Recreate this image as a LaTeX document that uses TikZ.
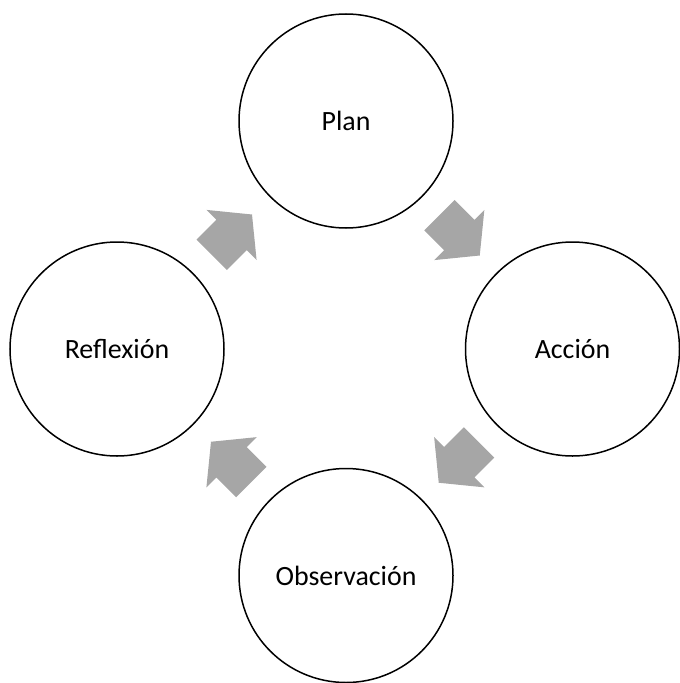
\documentclass[tikz,border=0pt]{standalone}
\usepackage{fontspec}
\setmainfont{Carlito}
\usetikzlibrary{calc}
\definecolor{arrowgray}{RGB}{166,166,166}
\tikzset{
  stage/.style={circle, draw=black, line width=1.5bp, minimum size=214bp,
                inner sep=0pt, font=\fontsize{28}{32}\selectfont},
  flow/.style={fill=arrowgray, draw=none}
}
\begin{document}
\begin{tikzpicture}[x=1bp,y=-1bp]
  \useasboundingbox (0,0) rectangle (680,683);
  % four stages of the cycle
  \node[stage] (plan) at (346,121) {Plan};
  \node[stage] (accion) at (572.5,349) {Acción};
  \node[stage] (obs) at (346,575.5) {Observación};
  \node[stage] (refl) at (117,349) {Reflexión};
  % block arrows halfway between consecutive stages
  \foreach \from/\to/\ang in {refl/plan/45, plan/accion/-45, accion/obs/-135, obs/refl/135}{
    \begin{scope}[shift={($(\from)!0.5!(\to)$)}, rotate=\ang]
      \fill[flow] (-28,-21.5) -- (0,-21.5) -- (0,-35.5) -- (29,0)
                  -- (0,35.5) -- (0,21.5) -- (-28,21.5) -- cycle;
    \end{scope}
  }
\end{tikzpicture}
\end{document}
